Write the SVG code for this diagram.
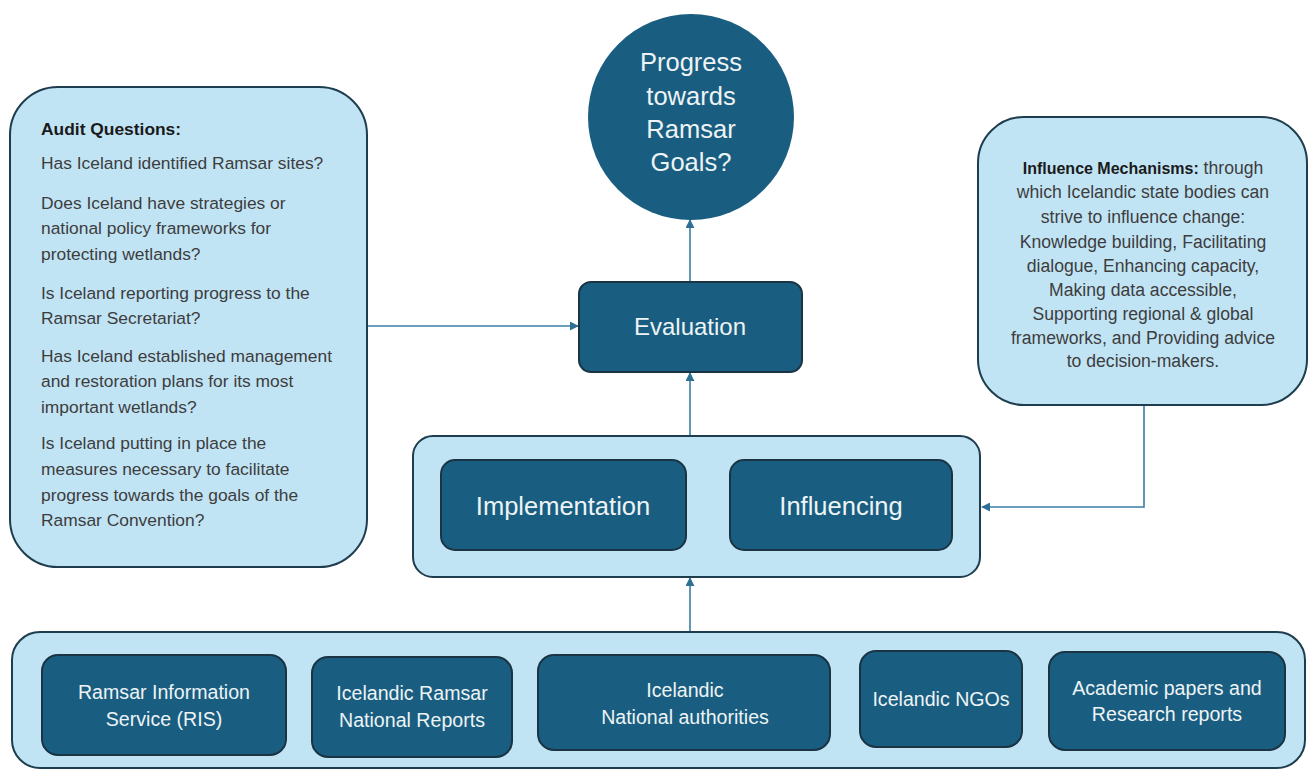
<svg xmlns="http://www.w3.org/2000/svg" width="1308" height="771" viewBox="0 0 1308 771">
<defs>
<style>
.light{fill:#c1e4f5;stroke:#1e3d4e;stroke-width:2}
.dark{fill:#195e80;stroke:#1a3444;stroke-width:2}
.conn{fill:none;stroke:#3a7ea3;stroke-width:1.6}
.q{font-family:"Liberation Sans",Arial,sans-serif;font-size:17.4px;fill:#3d3d3d}
.im{font-family:"Liberation Sans",Arial,sans-serif;font-size:17.6px;fill:#3d3d3d;text-anchor:middle}
.w{font-family:"Liberation Sans",Arial,sans-serif;fill:#eef3f6;text-anchor:middle}
.b{font-weight:bold;fill:#1a1a1a}
</style>
<marker id="ah" viewBox="0 0 10 10" refX="9" refY="5" markerWidth="9" markerHeight="9" markerUnits="userSpaceOnUse" orient="auto">
<path d="M0,0 L10,5 L0,10 z" fill="#2e6f94"/>
</marker>
</defs>
<rect width="1308" height="771" fill="#ffffff"/>

<g id="connectors">
<line class="conn" x1="368" y1="326" x2="578" y2="326" marker-end="url(#ah)"/>
<line class="conn" x1="690" y1="282" x2="690" y2="220" marker-end="url(#ah)"/>
<line class="conn" x1="690" y1="436" x2="690" y2="373" marker-end="url(#ah)"/>
<line class="conn" x1="690" y1="632" x2="690" y2="578" marker-end="url(#ah)"/>
<polyline class="conn" points="1144,405 1144,507 982,507" marker-end="url(#ah)"/>
</g>

<g id="goal">
<circle cx="691" cy="117" r="103" fill="#195e80"/>
<text class="w" font-size="25.5" x="691" y="71">Progress</text>
<text class="w" font-size="25.5" x="691" y="105">towards</text>
<text class="w" font-size="25.5" x="691" y="138">Ramsar</text>
<text class="w" font-size="25.5" x="691" y="171">Goals?</text>
</g>

<g id="audit">
<rect class="light" x="10" y="87" width="357" height="480" rx="48"/>
<text class="q b" x="41" y="135" font-size="15.5">Audit Questions:</text>
<text class="q" x="41" y="169">Has Iceland identified Ramsar sites?</text>
<text class="q" x="41" y="209">Does Iceland have strategies or</text>
<text class="q" x="41" y="234">national policy frameworks for</text>
<text class="q" x="41" y="260">protecting wetlands?</text>
<text class="q" x="41" y="299">Is Iceland reporting progress to the</text>
<text class="q" x="41" y="324">Ramsar Secretariat?</text>
<text class="q" x="41" y="362">Has Iceland established management</text>
<text class="q" x="41" y="387">and restoration plans for its most</text>
<text class="q" x="41" y="413">important wetlands?</text>
<text class="q" x="41" y="449">Is Iceland putting in place the</text>
<text class="q" x="41" y="475">measures necessary to facilitate</text>
<text class="q" x="41" y="501">progress towards the goals of the</text>
<text class="q" x="41" y="526">Ramsar Convention?</text>
</g>

<g id="evaluation">
<rect class="dark" x="579" y="282" width="223" height="90" rx="12"/>
<text class="w" font-size="24" x="690" y="335">Evaluation</text>
</g>

<g id="influence">
<rect class="light" x="978" y="117" width="329" height="288" rx="46"/>
<text class="im" x="1143" y="174"><tspan class="b" font-size="16">Influence Mechanisms:</tspan> through</text>
<text class="im" x="1143" y="198">which Icelandic state bodies can</text>
<text class="im" x="1143" y="223">strive to influence change:</text>
<text class="im" x="1143" y="248">Knowledge building, Facilitating</text>
<text class="im" x="1143" y="272">dialogue, Enhancing capacity,</text>
<text class="im" x="1143" y="296">Making data accessible,</text>
<text class="im" x="1143" y="320">Supporting regional &amp; global</text>
<text class="im" x="1143" y="344">frameworks, and Providing advice</text>
<text class="im" x="1143" y="367">to decision-makers.</text>
</g>

<g id="actions">
<rect class="light" x="413" y="436" width="567" height="141" rx="20"/>
</g>
<g id="implementation">
<rect class="dark" x="441" y="460" width="245" height="90" rx="14"/>
<text class="w" font-size="25.5" x="563" y="515">Implementation</text>
</g>
<g id="influencing">
<rect class="dark" x="730" y="460" width="222" height="90" rx="14"/>
<text class="w" font-size="25.5" x="841" y="515">Influencing</text>
</g>

<g id="sources">
<rect class="light" x="12" y="632" width="1293" height="136" rx="28"/>
</g>
<g id="ris">
<rect class="dark" x="42" y="655" width="244" height="100" rx="16"/>
<text class="w" font-size="19.6" x="164" y="699">Ramsar Information</text>
<text class="w" font-size="19.6" x="164" y="726">Service (RIS)</text>
</g>
<g id="national-reports">
<rect class="dark" x="312" y="657" width="200" height="100" rx="16"/>
<text class="w" font-size="19.6" x="412" y="700">Icelandic Ramsar</text>
<text class="w" font-size="19.6" x="412" y="727">National Reports</text>
</g>
<g id="authorities">
<rect class="dark" x="538" y="655" width="292" height="95" rx="16"/>
<text class="w" font-size="19.6" x="685" y="697">Icelandic</text>
<text class="w" font-size="19.6" x="685" y="724">National authorities</text>
</g>
<g id="ngos">
<rect class="dark" x="860" y="651" width="162" height="96" rx="16"/>
<text class="w" font-size="19.6" x="941" y="706">Icelandic NGOs</text>
</g>
<g id="academic">
<rect class="dark" x="1049" y="652" width="236" height="98" rx="16"/>
<text class="w" font-size="19.6" x="1167" y="695">Academic papers and</text>
<text class="w" font-size="19.6" x="1167" y="721">Research reports</text>
</g>
</svg>
